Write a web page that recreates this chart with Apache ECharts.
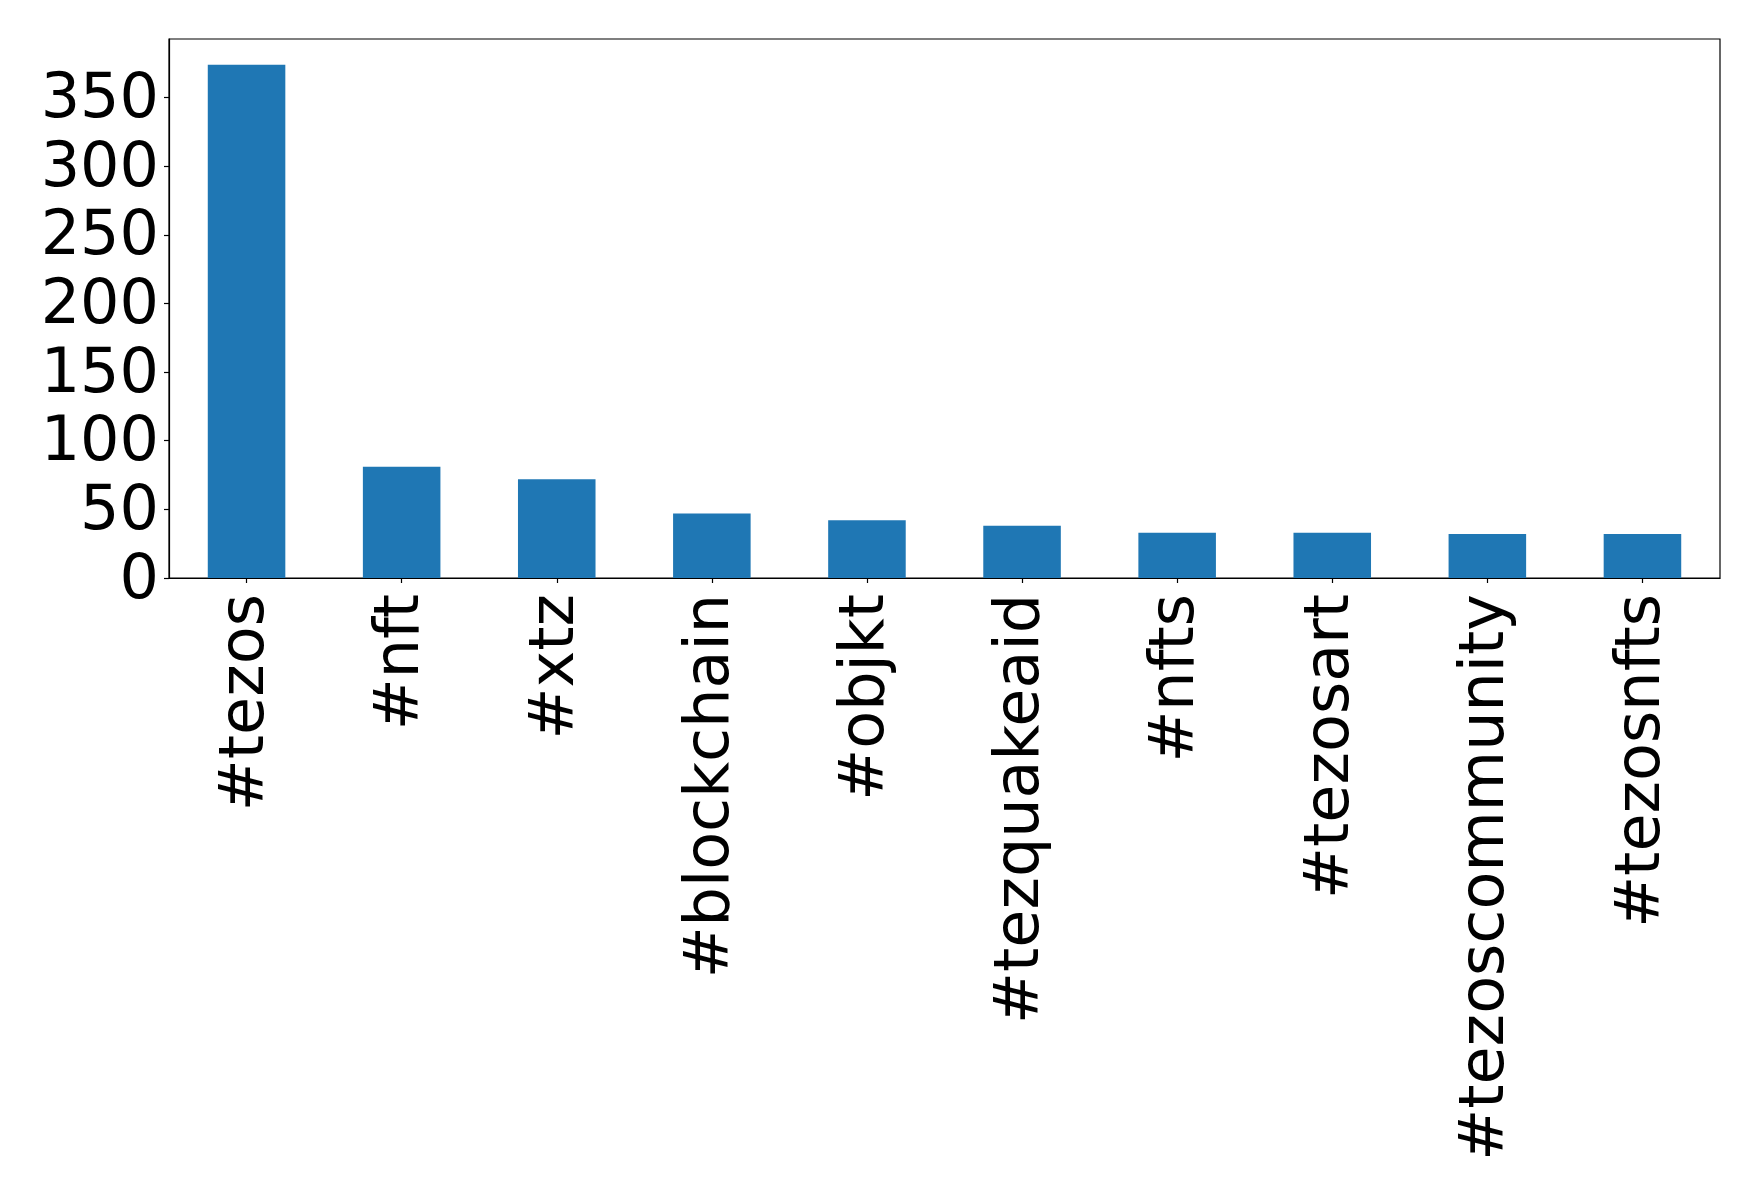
<!DOCTYPE html>
<html>
<head>
<meta charset="utf-8">
<script src="https://cdn.jsdelivr.net/npm/echarts@6/dist/echarts.min.js"></script>
<style>
html,body{margin:0;padding:0;background:#fff;}
#chart{width:1759px;height:1199px;}
</style>
</head>
<body>
<div id="chart"></div>
<script>
const categories = ['#tezos', '#nft', '#xtz', '#blockchain', '#objkt', '#tezquakeaid', '#nfts', '#tezosart', '#tezoscommunity', '#tezosnfts'];
const counts = [374, 81, 72, 47, 42, 38, 33, 33, 32, 32];
const yTicks = [0, 50, 100, 150, 200, 250, 300, 350];
const yMax = 392.7;

const chart = echarts.init(document.getElementById('chart'), null, {renderer: 'canvas'});
const font = 'DejaVu Sans';
chart.setOption({
  animation: false,
  backgroundColor: '#ffffff',
  grid: {
    left: 169, top: 39, right: 39, bottom: 621,
    show: true, borderColor: '#000', borderWidth: 1.2, backgroundColor: 'transparent',
    containLabel: false
  },
  xAxis: {
    type: 'category',
    data: categories,
    boundaryGap: true,
    axisLine: {show: true, lineStyle: {color: '#000', width: 1.2}},
    axisTick: {show: true, alignWithLabel: true, length: 5, inside: false, lineStyle: {color: '#000', width: 1.2}},
    axisLabel: {rotate: 90, fontSize: 62, fontFamily: font, color: '#000', margin: 16, interval: 0},
    splitLine: {show: false}
  },
  yAxis: {
    type: 'value',
    min: 0, max: yMax, interval: 50,
    axisLine: {show: true, lineStyle: {color: '#000', width: 1.2}},
    axisTick: {show: true, length: 5, inside: false, lineStyle: {color: '#000', width: 1.2}, customValues: yTicks},
    axisLabel: {
      fontSize: 62, fontFamily: font, color: '#000', margin: 10, customValues: yTicks,
      formatter: '{v|{value}}',
      rich: {v: {fontSize: 62, fontFamily: font, color: '#000', padding: [7, 0, 0, 0]}}
    },
    splitLine: {show: false}
  },
  series: [{
    type: 'bar',
    data: counts,
    barWidth: '50%',
    itemStyle: {color: '#1f77b4'}
  }]
});
</script>
</body>
</html>
